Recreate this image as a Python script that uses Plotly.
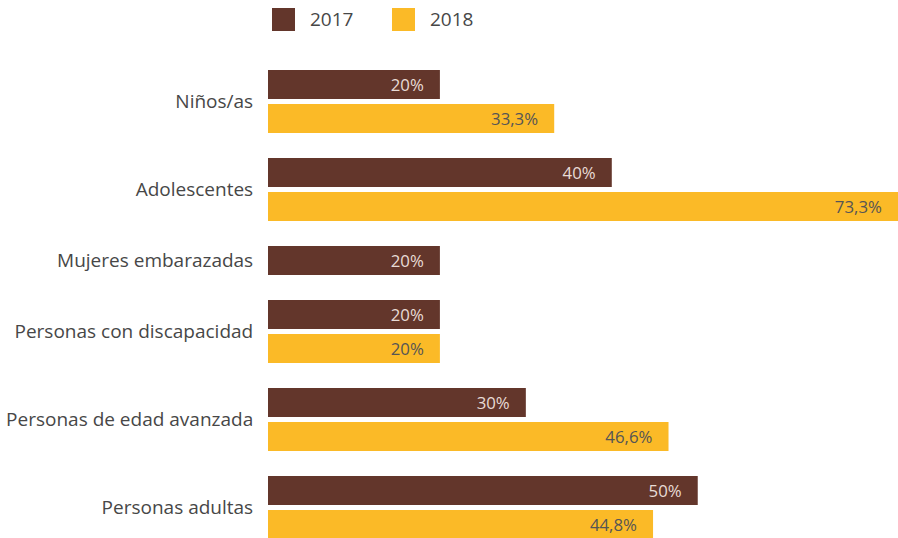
import plotly.graph_objects as go

# data
categories = [
    "Niños/as",
    "Adolescentes",
    "Mujeres embarazadas",
    "Personas con discapacidad",
    "Personas de edad avanzada",
    "Personas adultas",
]
values_2017 = [20, 40, 20, 20, 30, 50]
values_2018 = [33.3, 73.3, None, 20, 46.6, 44.8]
series_names = ["2017", "2018"]

# styling
colors = {"2017": "#63362B", "2018": "#FBBA27"}
text_colors = {"2017": "#E8DCD6", "2018": "#555555"}
label_color = "#474747"
font_family = "Open Sans"

W, H = 898, 538
margin = {"l": 268, "r": 0, "t": 40, "b": 0}
plot_w = W - margin["l"] - margin["r"]
plot_h = H - margin["t"] - margin["b"]

# layout in "bar slots": 1 unit = one bar + small gap
bar_px = 29
slot_px = 34
group_gap = (bar_px + 25) / slot_px  # center step between groups


def fmt(v):
    return f"{v:g}".replace(".", ",") + "%"


# compute bar centers per category (skip missing series values)
pos = {"2017": [], "2018": []}
group_centers = []
cursor = 0.0
first = True
for v17, v18 in zip(values_2017, values_2018):
    present = [(n, v) for n, v in zip(series_names, (v17, v18)) if v is not None]
    if not first:
        cursor += group_gap
    first = False
    centers = []
    for k, (name, v) in enumerate(present):
        if k > 0:
            cursor += 1
        pos[name].append(cursor)
        centers.append(cursor)
    for name in series_names:
        if name not in [n for n, _ in present]:
            pos[name].append(None)
    group_centers.append(sum(centers) / len(centers))

unit = slot_px
top_units = (84.5 - margin["t"]) / unit
y_range = [-top_units + plot_h / unit, -top_units]

fig = go.Figure()
for name, vals in zip(series_names, (values_2017, values_2018)):
    ys = [y for y, v in zip(pos[name], vals) if v is not None]
    xs = [v for v in vals if v is not None]
    fig.add_trace(
        go.Bar(
            x=xs,
            y=ys,
            orientation="h",
            width=bar_px / slot_px,
            name=name,
            marker={"color": colors[name], "line": {"width": 0}},
            text=[fmt(v) for v in xs],
            texttemplate="%{text}\u00a0\u00a0\u00a0",
            textposition="inside",
            insidetextanchor="end",
            insidetextfont={"color": text_colors[name], "size": 19, "family": font_family},
            showlegend=False,
            hoverinfo="skip",
        )
    )


# legend drawn by hand to match the big square swatches (pixel coords)
def px_x(x):
    return (x - margin["l"]) / plot_w


def px_y(y):
    return (H - margin["b"] - y) / plot_h


for name, x0, tx in [("2017", 272, 308), ("2018", 392, 428)]:
    fig.add_shape(
        type="rect",
        xref="paper", yref="paper",
        x0=px_x(x0), x1=px_x(x0 + 23), y0=px_y(31), y1=px_y(8),
        fillcolor=colors[name], line={"width": 0},
    )
    fig.add_annotation(
        xref="paper", yref="paper",
        x=px_x(tx), y=px_y(19.5),
        xanchor="left", yanchor="middle",
        text=name, showarrow=False,
        font={"size": 19, "color": label_color, "family": font_family},
    )

fig.update_layout(
    width=W,
    height=H,
    margin=margin,
    plot_bgcolor="white",
    paper_bgcolor="white",
    barmode="overlay",
    xaxis={"range": [0, 73.3], "visible": False, "fixedrange": True},
    yaxis={
        "range": y_range,
        "tickvals": group_centers,
        "ticktext": categories,
        "showgrid": False,
        "zeroline": False,
        "showline": False,
        "fixedrange": True,
        "ticks": "outside",
        "ticklen": 10,
        "tickcolor": "rgba(0,0,0,0)",
        "tickfont": {"size": 19, "color": label_color, "family": font_family},
    },
)

# drop the default 8px page margin so the figure fills the window exactly
fig.write_html(
    "out.html",
    config={"displayModeBar": False},
    post_script="document.body.style.margin='0';document.body.style.overflow='hidden';",
)
